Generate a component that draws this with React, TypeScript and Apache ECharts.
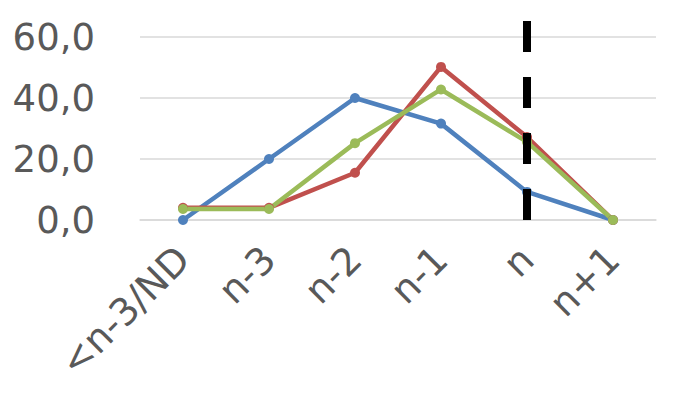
import React, { useEffect, useRef } from "react";
import * as echarts from "echarts";

const categories = ["<n-3/ND", "n-3", "n-2", "n-1", "n", "n+1"];
const blueValues = [0, 20, 40, 31.6, 9.2, 0];
const redValues = [4.0, 4.0, 15.5, 50.2, 27.2, 0];
const greenValues = [3.6, 3.6, 25.2, 42.8, 25.6, 0];
const markerCategory = "n";
const yTicks = { min: 0, max: 60, interval: 20 };

export default function App() {
  const ref = useRef<HTMLDivElement>(null);
  useEffect(() => {
    if (!ref.current) return;
    const chart = echarts.init(ref.current, null, { renderer: "svg" });
    const font = "DejaVu Sans";
    const lineSeries = (name: string, data: number[], color: string) => ({
      name,
      type: "line",
      xAxisIndex: 0,
      yAxisIndex: 0,
      data,
      symbol: "circle",
      symbolSize: 10,
      lineStyle: { color, width: 4.5 },
      itemStyle: { color },
      z: 3,
    });
    chart.setOption({
      animation: false,
      backgroundColor: "#ffffff",
      grid: [
        { left: 140, right: 19, top: 37, bottom: 200 },
        { left: 140, right: 19, top: 21, bottom: 200 },
      ],
      xAxis: [
        {
          type: "category",
          gridIndex: 0,
          data: categories,
          boundaryGap: true,
          axisLine: { show: true, lineStyle: { color: "#D9D9D9", width: 1.5 } },
          axisTick: { show: false },
          axisLabel: {
            rotate: 45,
            margin: 33,
            color: "#595959",
            fontFamily: font,
            fontSize: 38,
            interval: 0,
          },
        },
        {
          type: "category",
          gridIndex: 1,
          data: categories,
          boundaryGap: true,
          show: false,
        },
      ],
      yAxis: [
        {
          type: "value",
          gridIndex: 0,
          min: yTicks.min,
          max: yTicks.max,
          interval: yTicks.interval,
          axisLine: { show: false },
          axisTick: { show: false },
          splitLine: { show: true, lineStyle: { color: "#D9D9D9", width: 1.5 } },
          axisLabel: {
            color: "#595959",
            fontFamily: font,
            fontSize: 37,
            margin: 45,
            formatter: (v: number) => v.toFixed(1).replace(".", ","),
          },
        },
        {
          type: "value",
          gridIndex: 1,
          min: 0,
          max: 1,
          show: false,
        },
      ],
      series: [
        lineSeries("Série 1", blueValues, "#4F81BD"),
        lineSeries("Série 2", redValues, "#C0504D"),
        lineSeries("Série 3", greenValues, "#9BBB59"),
        {
          name: "marker",
          type: "line",
          xAxisIndex: 1,
          yAxisIndex: 1,
          data: categories.map(() => null),
          symbol: "none",
          z: 10,
          markLine: {
            silent: true,
            symbol: ["none", "none"],
            label: { show: false },
            lineStyle: { color: "#000000", width: 8, type: [31, 25], cap: "butt" },
            data: [{ xAxis: markerCategory }],
            z: 10,
          },
        },
      ],
    });
    return () => chart.dispose();
  }, []);
  return (
    <div
      ref={ref}
      style={{ position: "fixed", left: 0, top: 0, width: 675, height: 420, background: "#fff" }}
    />
  );
}
